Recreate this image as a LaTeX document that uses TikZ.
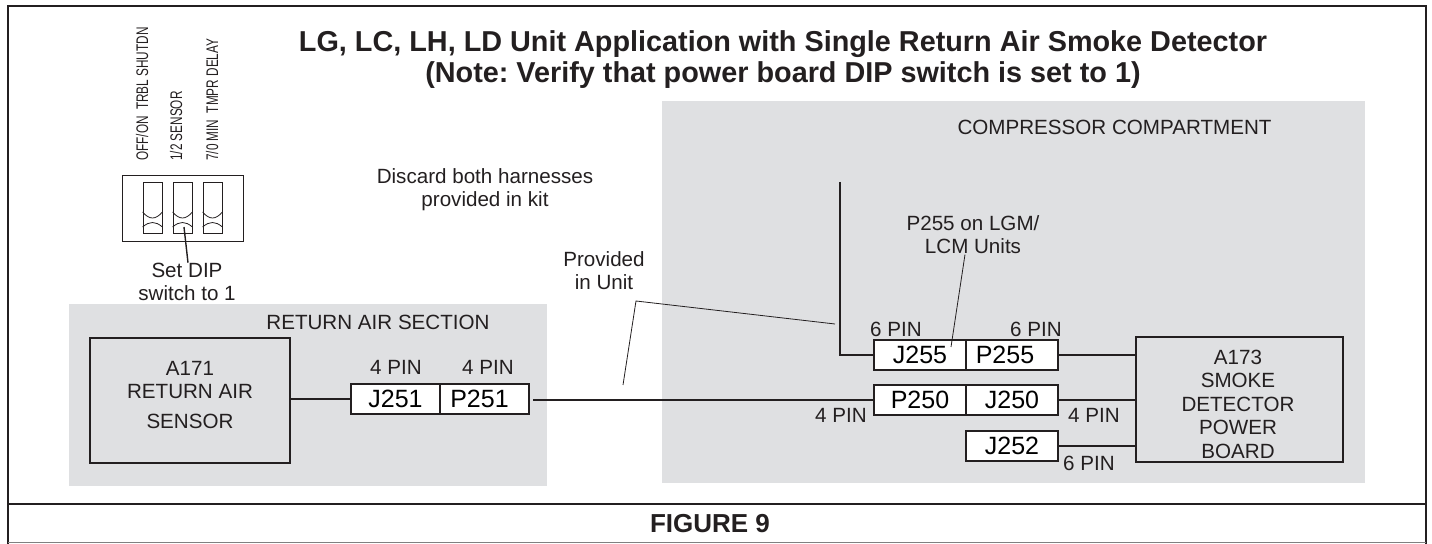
\documentclass[tikz,border=0pt]{standalone}
\usepackage{fontspec}
\setmainfont{Liberation Sans}
\usetikzlibrary{calc}
\definecolor{panelgray}{RGB}{223,224,226}
\definecolor{inkblack}{RGB}{35,31,32}
\tikzset{
  plug/.style={draw=inkblack, fill=white, line width=1.2pt, minimum width=46pt, minimum height=15.2pt, inner sep=0pt, font=\fontsize{12.5}{12.5}\selectfont},
  board/.style={draw=inkblack, line width=1.1pt, inner sep=0pt},
  tag/.style={text=inkblack, align=center, inner sep=0pt, font=\fontsize{10.3}{11.6}\selectfont},
  dipname/.style={text=inkblack, rotate=90, anchor=west, inner sep=0pt, xscale=0.7, font=\fontsize{8.4}{9}\selectfont},
  wire/.style={draw=inkblack, line width=1.05pt},
  leader/.style={draw=inkblack, line width=0.4pt},
  slot/.style={draw=inkblack, line width=0.4pt}
}
\begin{document}
\begin{tikzpicture}[x=0.5pt,y=-0.5pt]
\useasboundingbox (0,0) rectangle (1432,544);
\fill[panelgray] (69,304) rectangle (547,486);
\fill[panelgray] (662,101) rectangle (1365,483);

% frame
\draw[inkblack, line width=1.4pt] (8,544) -- (8,6) -- (1426,6) -- (1426,544);
\draw[inkblack, line width=1.4pt] (8,504) -- (1426,504);
\draw[gray, line width=0.5pt] (8,543) -- (1426,543);

\node[text=inkblack, align=center, inner sep=0pt, font=\fontsize{14.4}{15.5}\selectfont\bfseries\frenchspacing] (title) at (783,59.5)
  {LG, LC, LH, LD Unit Application with Single Return Air Smoke Detector\\(Note: Verify that power board DIP switch is set to 1)};
\node[text=inkblack, inner sep=0pt, font=\fontsize{13}{13}\selectfont\bfseries] (figname) at (710,524) {FIGURE 9};
\node[tag] (compartment) at (1114.5,127) {COMPRESSOR COMPARTMENT};
\node[tag] (returnsec) at (378,322) {RETURN AIR SECTION};
\node[tag] (discard) at (485,190) {Discard both harnesses\\provided in kit};
\node[tag] (setdip) at (187,282) {Set DIP\\switch to 1};
\node[tag] (provided) at (604,270.5) {Provided\\in Unit};
\node[tag] (lgm) at (973,235) {P255 on LGM/\\LCM Units};

% DIP switch
\node[draw=inkblack, line width=0.4pt, minimum width=60.5pt, minimum height=33pt, inner sep=0pt] (dip) at (182.5,208) {};
\foreach \name/\x in {one/152.5, two/182.5, three/212.5}{
  \node[slot, minimum width=9.5pt, minimum height=25.5pt, inner sep=0pt] (sw\name) at (\x,207.5) {};
  \draw[slot] (sw\name.west|-0,212) .. controls (\x-3,220) and (\x+3,220) .. (sw\name.east|-0,212);
  \draw[slot] (sw\name.west|-0,227) .. controls (\x-3,221) and (\x+3,221) .. (sw\name.east|-0,227);
}
\node[dipname] (lblone) at (142,161) {OFF/ON\ \ TRBL SHUTDN};
\node[dipname] (lbltwo) at (176,161) {1/2 SENSOR};
\node[dipname] (lblthree) at (212,161) {7/0 MIN\ \ TMPR DELAY};
\coordinate (dipfoot) at (184,227);
\draw[inkblack, line width=0.7pt] (dipfoot) -- (setdip.north-|188,0);

% boards
\node[board, minimum width=100pt, minimum height=62.5pt] (A) at (190,400.5) {};
\node[board, minimum width=103.5pt, minimum height=62.5pt] (B) at (1239.5,399.5) {};
\node[tag] (Aname) at (190,395) {A171\\RETURN AIR\\[3.2pt]SENSOR};
\node[tag, font=\fontsize{10.3}{11.75}\selectfont] (Bname) at (1238,404) {A173\\SMOKE\\DETECTOR\\POWER\\BOARD};

% plugs
\node[plug, minimum width=44.5pt] (jA) at (395.5,399) {J251};
\node[plug, minimum width=44.5pt] (pA) at (484.5,399) {P251\kern5pt};
\node[plug] (jB) at (920,355) {J255};
\node[plug] (pB) at (1012,355) {P255\kern7pt};
\node[plug] (pC) at (920,400) {P250};
\node[plug] (jC) at (1012,400) {J250};
\node[plug] (jD) at (1012,446) {J252};

\node[tag] (pinA) at (396,367) {4 PIN};
\node[tag] (pinB) at (488,367) {4 PIN};
\node[tag] (pinC) at (896,329) {6 PIN};
\node[tag] (pinD) at (1036,329) {6 PIN};
\node[tag] (pinE) at (841,415) {4 PIN};
\node[tag] (pinF) at (1094,415) {4 PIN};
\node[tag] (pinG) at (1089,463) {6 PIN};

% wires
\coordinate (stub) at (840,182);
\draw[wire] (A.east|-jA) -- (jA);
\draw[wire, shorten <=1.5pt] (pA.east|-pC) -- (pC);
\draw[wire] (stub) |- (jB);
\draw[wire] (pB) -- (B.west|-pB);
\draw[wire] (jC) -- (B.west|-jC);
\draw[wire] (jD) -- (B.west|-jD);

% leaders
\coordinate (unitfoot) at (623,385);
\coordinate (unitknee) at (636,301);
\coordinate (unitend) at (835,324);
\coordinate (lgmfoot) at (951,347);
\draw[leader] (unitfoot) -- (unitknee) -- (unitend);
\draw[leader] (lgm.south-|965,0) -- (lgmfoot);
\end{tikzpicture}
\end{document}
